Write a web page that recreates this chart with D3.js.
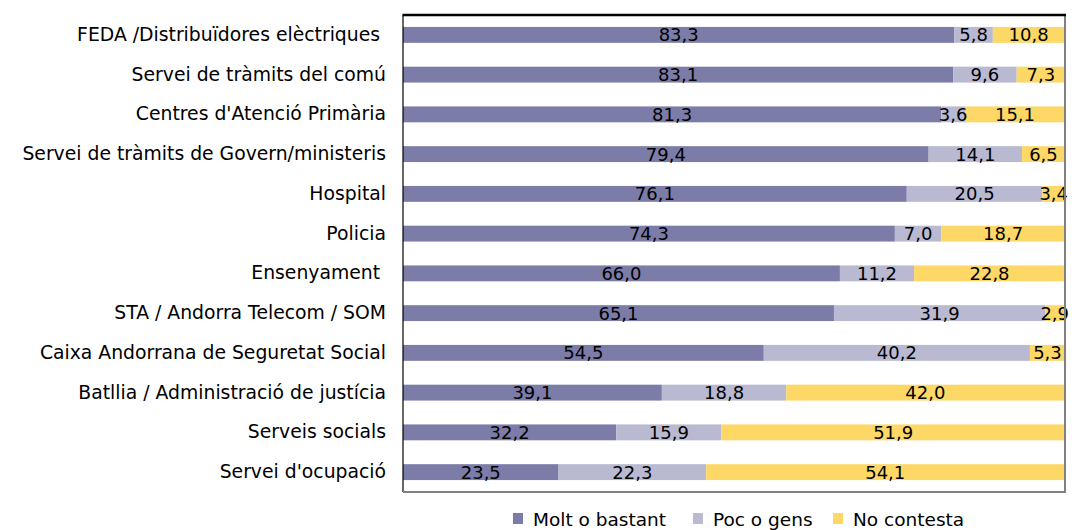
<!DOCTYPE html>
<html>
<head>
<meta charset="utf-8">
<script src="https://cdn.jsdelivr.net/npm/d3@7"></script>
<style>
  body { margin: 0; background: #fff; }
  text { font-family: "DejaVu Sans", sans-serif; white-space: pre; }
</style>
</head>
<body>
<div id="chart-area"></div>
<script>
// categories, top to bottom
const categories = [
  "FEDA /Distribuïdores elèctriques ",
  "Servei de tràmits del comú",
  "Centres d'Atenció Primària",
  "Servei de tràmits de Govern/ministeris",
  "Hospital",
  "Policia",
  "Ensenyament ",
  "STA / Andorra Telecom / SOM",
  "Caixa Andorrana de Seguretat Social",
  "Batllia / Administració de justícia",
  "Serveis socials",
  "Servei d'ocupació"
]
const seriesNames = ["Molt o bastant", "Poc o gens", "No contesta"]
const molt = [83.3, 83.1, 81.3, 79.4, 76.1, 74.3, 66.0, 65.1, 54.5, 39.1, 32.2, 23.5]
const poc = [5.8, 9.6, 3.6, 14.1, 20.5, 7.0, 11.2, 31.9, 40.2, 18.8, 15.9, 22.3]
const noContesta = [10.8, 7.3, 15.1, 6.5, 3.4, 18.7, 22.8, 2.9, 5.3, 42.0, 51.9, 54.1]
const colors = ["#7c7ca8", "#b9b9d2", "#fdd866"]

const W = 1072, H = 530
const PLOT = { LEFT: 403, RIGHT: 1065, TOP: 15, BOTTOM: 492 }

const svg = d3.select("#chart-area").append("svg")
  .attr("width", W)
  .attr("height", H)

// build rows for the stack
const rows = categories.map((c, i) => ({
  cat: c,
  "Molt o bastant": molt[i],
  "Poc o gens": poc[i],
  "No contesta": noContesta[i]
}))
const stacked = d3.stack().keys(seriesNames)(rows)

const x = d3.scaleLinear().domain([0, 100]).range([PLOT.LEFT, PLOT.RIGHT])
const y = d3.scaleBand().domain(categories).range([PLOT.TOP, PLOT.BOTTOM]).paddingInner(0.6).paddingOuter(0.3)

const fmt = v => d3.format(".1f")(v).replace(".", ",")

// bars
const layers = svg.append("g").selectAll("g")
  .data(stacked)
  .join("g")
  .attr("fill", (d, i) => colors[i])

layers.selectAll("rect")
  .data(d => d)
  .join("rect")
  .attr("x", d => x(d[0]))
  .attr("y", d => y(d.data.cat))
  .attr("width", d => x(d[1]) - x(d[0]))
  .attr("height", y.bandwidth())

// value labels
const labels = svg.append("g")
stacked.forEach(layer => {
  labels.selectAll(null)
    .data(layer)
    .join("text")
    .attr("x", d => (x(d[0]) + x(d[1])) / 2)
    .attr("y", d => y(d.data.cat) + y.bandwidth() / 2)
    .attr("dy", "0.36em")
    .attr("text-anchor", "middle")
    .attr("font-size", "18px")
    .attr("fill", "#000")
    .text(d => fmt(d[1] - d[0]))
})

// frame
svg.append("line").attr("x1", PLOT.LEFT).attr("x2", PLOT.LEFT)
  .attr("y1", PLOT.TOP).attr("y2", PLOT.BOTTOM).attr("stroke", "#000").attr("stroke-width", 1.2)
svg.append("line").attr("x1", PLOT.RIGHT).attr("x2", PLOT.RIGHT)
  .attr("y1", PLOT.TOP).attr("y2", PLOT.BOTTOM).attr("stroke", "#808080").attr("stroke-width", 2)
svg.append("line").attr("x1", PLOT.LEFT).attr("x2", PLOT.RIGHT + 1)
  .attr("y1", PLOT.BOTTOM).attr("y2", PLOT.BOTTOM).attr("stroke", "#808080").attr("stroke-width", 2)
svg.append("line").attr("x1", PLOT.LEFT - 0.5).attr("x2", PLOT.RIGHT + 1)
  .attr("y1", PLOT.TOP).attr("y2", PLOT.TOP).attr("stroke", "#000").attr("stroke-width", 2.4)

// category axis
const yAxis = svg.append("g")
  .attr("transform", `translate(${PLOT.LEFT - 17}, 0)`)
  .call(d3.axisLeft(y).tickSize(0).tickPadding(0))
yAxis.select(".domain").remove()
yAxis.selectAll("text")
  .attr("font-family", "DejaVu Sans, sans-serif")
  .attr("font-size", "18.8px")
  .attr("fill", "#000")

// legend
const legendX = [513, 693, 833]
const legend = svg.append("g")
seriesNames.forEach((name, i) => {
  legend.append("rect")
    .attr("x", legendX[i]).attr("y", 513)
    .attr("width", 10).attr("height", 11)
    .attr("fill", colors[i])
  legend.append("text")
    .attr("x", legendX[i] + 20).attr("y", 519)
    .attr("dy", "0.36em")
    .attr("font-size", "18.5px")
    .attr("fill", "#000")
    .text(name)
})
</script>
</body>
</html>
